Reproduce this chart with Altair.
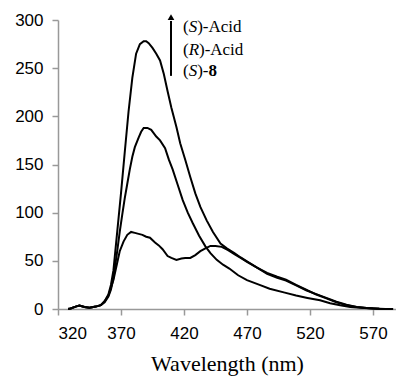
import altair as alt
import pandas as pd

# ---- data ----
wl_s_acid = [328, 330, 334, 337, 341, 345, 350, 354, 357, 360, 362, 364, 367, 370, 373, 376, 379,
             382, 385, 388, 390, 392, 395, 398, 401, 404, 407, 410, 414, 417, 421, 425, 429, 433,
             438, 443, 449, 454, 460, 465, 470, 478, 486, 494, 501, 509, 517, 525, 533, 541,
             549, 557, 565, 575, 586]
int_s_acid = [0, 0.5, 2.5, 3.5, 2, 1.2, 2.5, 4, 8, 15, 25, 40, 80, 120, 163, 205, 240,
              265, 275, 278, 278, 276, 271, 265, 258, 244, 226, 209, 189, 172, 155, 137, 120, 106,
              92, 80, 68, 63, 58, 53.5, 49.5, 43, 36.5, 32.5, 29.5, 24.5, 19.5, 15.5, 11.5, 7.5,
              4.5, 2.2, 1, 0.3, 0]

wl_r_acid = [328, 330, 334, 337, 341, 345, 350, 354, 357, 360, 362, 364, 367, 369, 371, 373, 375,
             377, 379, 381, 384, 386, 388, 391, 394, 398, 401, 405, 408, 411, 415, 419, 423, 427,
             432, 437, 441, 446, 451, 456, 463, 470, 480, 488, 500, 509, 518, 528, 536, 544, 552,
             560, 570, 580]
int_r_acid = [0, 0.5, 2.5, 3.5, 2, 1.2, 2.5, 4, 7, 13, 20, 32, 60, 80, 98, 115, 130,
              145, 158, 168, 178, 184, 188, 188, 186, 179, 175, 167, 155, 145, 129, 113, 100, 89,
              76, 65, 58, 51, 46, 42, 35, 30, 25, 21, 17, 14, 11.5, 9, 6, 3.8, 2,
              1.4, 0.5, 0]

wl_s8 = [328, 330, 334, 337, 341, 345, 350, 354, 357, 360, 364, 367, 369, 372, 375, 378, 381,
         384, 387, 390, 393, 397, 400, 403, 407, 410, 414, 418, 421, 425, 429, 433, 437, 441,
         445, 450, 455, 460, 465, 470, 478, 486, 494, 501, 509, 517, 525, 533, 541, 549, 557,
         565, 575, 586]
int_s8 = [0, 0.5, 2.5, 3.5, 2, 1.2, 2.5, 4, 8, 14, 30, 48, 60, 70, 77, 80, 79,
          78, 77, 75, 74, 69, 66, 62, 55, 53, 51, 52.5, 53, 53, 56, 60, 63, 65.5,
          65.5, 64.5, 61, 57, 53, 49, 43, 37.5, 33.5, 30.5, 25, 20, 15, 11, 7, 4, 2,
          1, 0.3, 0]

x_ticks = [320, 370, 420, 470, 520, 570]
y_ticks = [0, 50, 100, 150, 200, 250, 300]

# annotation: arrow and labels (data coordinates)
arrow_wl = 409.7
arrow_from = 242
arrow_to = 299
arrow_head = 303
label_wl = 419.2
label_rows = [
    # text, y, dx(px), style
    ("(", 292.8, 0, "normal"), ("S", 292.8, 5.7, "italic"), (")-Acid", 292.8, 14.2, "normal"),
    ("(", 269.0, 0, "normal"), ("R", 269.0, 5.7, "italic"), (")-Acid", 269.0, 16.0, "normal"),
    ("(", 247.0, 0, "normal"), ("S", 247.0, 5.7, "italic"), (")-", 247.0, 14.2, "normal"),
    ("8", 247.0, 25.5, "bold"),
]

SERIF = "Liberation Serif, Times New Roman, serif"
SANS = "Liberation Sans, Arial, sans-serif"

# ---- build tables ----
frames = []
for name, wl, vals in [("(S)-Acid", wl_s_acid, int_s_acid),
                       ("(R)-Acid", wl_r_acid, int_r_acid),
                       ("(S)-8", wl_s8, int_s8)]:
    frames.append(pd.DataFrame({"wl": wl, "val": vals, "series": name}))
df = pd.concat(frames, ignore_index=True)

x_scale = alt.Scale(domain=[320, 588.3], nice=False, zero=False)
y_scale = alt.Scale(domain=[0, 300], nice=False)

lines = alt.Chart(df).mark_line(color="black", strokeWidth=2).encode(
    x=alt.X("wl:Q", scale=x_scale,
            axis=alt.Axis(values=x_ticks, title="Wavelength (nm)", grid=False,
                          labelFontSize=17, labelFont=SANS, labelColor="black",
                          labelPadding=10, tickSize=6, tickColor="#999999", tickWidth=1.5,
                          domainColor="#999999", domainWidth=1.5,
                          titleFont=SERIF, titleFontSize=22,
                          titleFontWeight="normal", titleColor="black", titlePadding=12)),
    y=alt.Y("val:Q", scale=y_scale,
            axis=alt.Axis(values=y_ticks, title=None, grid=False,
                          labelFontSize=17, labelFont=SANS, labelColor="black",
                          labelPadding=9, tickSize=6, tickColor="#999999", tickWidth=1.5,
                          domainColor="#999999", domainWidth=1.5)),
    detail="series:N",
    order="wl:Q",
)

arrow_df = pd.DataFrame({"wl": [arrow_wl], "y1": [arrow_from], "y2": [arrow_to], "yh": [arrow_head]})
arrow = alt.Chart(arrow_df).mark_rule(color="black", strokeWidth=2).encode(
    x="wl:Q", y="y1:Q", y2="y2:Q")
head = alt.Chart(arrow_df).mark_point(shape="triangle-up", filled=True, color="black",
                                      size=45, opacity=1).encode(x="wl:Q", y="yh:Q")

layers = [lines, arrow, head]
for text, yv, dx, style in label_rows:
    tdf = pd.DataFrame({"wl": [label_wl], "y": [yv], "t": [text]})
    props = dict(font=SERIF, fontSize=17, align="left", baseline="middle",
                 dx=dx, color="black")
    if style == "italic":
        props["fontStyle"] = "italic"
    if style == "bold":
        props["fontWeight"] = "bold"
    layers.append(alt.Chart(tdf).mark_text(**props).encode(x="wl:Q", y="y:Q", text="t:N"))

chart = alt.layer(*layers).properties(
    width=338, height=289,
    background="white",
    autosize=alt.AutoSizeParams(type="none"),
    padding={"left": 50, "top": 12, "right": 0, "bottom": 70},
).configure_view(stroke=None).configure_axis(
    titleFont=SERIF, labelFont=SANS
)

chart.save("out.html", embed_options={"renderer": "svg", "actions": False})
